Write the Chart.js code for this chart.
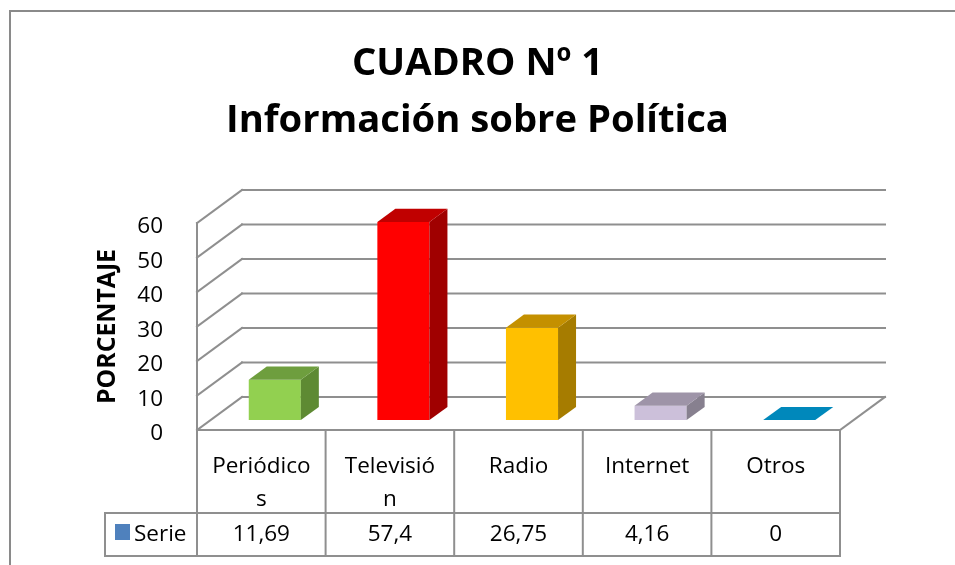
<!DOCTYPE html>
<html><head><meta charset="utf-8">
<script src="https://cdn.jsdelivr.net/npm/chart.js@4.4.0/dist/chart.umd.min.js"></script>
<style>html,body{margin:0;padding:0;background:#fff}</style>
</head><body>
<canvas id="c" width="955" height="565"></canvas>
<script>
// ---- data ----
const titleLines = ["CUADRO Nº 1", "Información sobre Política"];
const yAxisTitle = "PORCENTAJE";
const seriesName = "Serie";
const categories = ["Periódicos", "Televisión", "Radio", "Internet", "Otros"];
const categoryTickLabels = [["Periódico", "s"], ["Televisió", "n"], ["Radio"], ["Internet"], ["Otros"]];
const values = [11.69, 57.4, 26.75, 4.16, 0];
const valueLabels = values.map(v => String(v).replace('.', ','));
const yTicks = [0, 10, 20, 30, 40, 50, 60];
const frontColors = ["#92D050", "#FF0000", "#FFC000", "#CCC0DA", "#0088BB"];
const topColors   = ["#6E9E3E", "#C00000", "#C49000", "#9E94A8", "#0088BB"];
const sideColors  = ["#5E8A33", "#A00000", "#A67C00", "#87808F", "#006E99"];

// ---- styling helpers ----
const FONT = "Open Sans";
const TXT = 22.5;
function fitSize(text, weight, target) {
  const c = document.createElement('canvas').getContext('2d');
  c.font = weight + ' 100px "' + FONT + '"';
  return 100 * target / c.measureText(text).width;
}
const mainTitleSize = fitSize(titleLines[1], 'bold', 503);
const yTitleSize = fitSize(yAxisTitle, 'bold', 155);

const DX = 45, DY = 33;           // depth projection of the floor
const SHIFT = 0.3, DEPTH = 0.4;   // bar position/depth within floor
const LINE = '#8f8f8f';

function seg(ctx, x1, y1, x2, y2) { ctx.beginPath(); ctx.moveTo(x1, y1); ctx.lineTo(x2, y2); ctx.stroke(); }
function poly(ctx, pts, color) {
  ctx.beginPath(); ctx.moveTo(pts[0][0], pts[0][1]);
  for (let i = 1; i < pts.length; i++) ctx.lineTo(pts[i][0], pts[i][1]);
  ctx.closePath(); ctx.fillStyle = color; ctx.fill();
}

const threeD = {
  id: 'threeD',
  beforeDraw(chart) {
    const ctx = chart.ctx;
    ctx.save();
    ctx.fillStyle = '#fff'; ctx.fillRect(0, 0, chart.width, chart.height);
    ctx.strokeStyle = '#8a8a8a'; ctx.lineWidth = 2;
    ctx.beginPath(); ctx.moveTo(10, chart.height); ctx.lineTo(10, 11); ctx.lineTo(chart.width, 11); ctx.stroke();
    ctx.restore();
  },
  beforeDatasetsDraw(chart) {
    const ctx = chart.ctx, ca = chart.chartArea, ys = chart.scales.y;
    ctx.save();
    ctx.strokeStyle = LINE; ctx.lineWidth = 2; ctx.lineCap = 'square';
    yTicks.forEach(v => {
      const yp = ys.getPixelForValue(v);
      seg(ctx, ca.left, yp, ca.left + DX, yp - DY);
      seg(ctx, ca.left + DX, yp - DY, ca.right + DX, yp - DY);
    });
    const y0 = ys.getPixelForValue(0), yTop = ys.getPixelForValue(yTicks[yTicks.length - 1]);
    seg(ctx, ca.left, yTop, ca.left, y0);
    seg(ctx, ca.right, y0, ca.right + DX, y0 - DY);
    ctx.restore();
    ctx.save();
    ctx.translate(DX * SHIFT, -DY * SHIFT);
  },
  afterDatasetsDraw(chart) {
    const ctx = chart.ctx;
    const meta = chart.getDatasetMeta(0);
    const dx = DX * DEPTH, dy = DY * DEPTH;
    meta.data.forEach((el, i) => {
      const p = el.getProps(['x', 'y', 'base', 'width'], true);
      const l = p.x - p.width / 2, r = p.x + p.width / 2;
      const top = Math.min(p.y, p.base), bot = Math.max(p.y, p.base);
      if (bot - top > 0.5) {
        poly(ctx, [[r, top], [r + dx, top - dy], [r + dx, bot - dy], [r, bot]], sideColors[i]);
      }
      poly(ctx, [[l, top], [l + dx, top - dy], [r + dx, top - dy], [r, top]], topColors[i]);
    });
    ctx.restore();
  },
  afterDraw(chart) {
    const ctx = chart.ctx, ca = chart.chartArea;
    const n = categories.length, step = (ca.right - ca.left) / n;
    const yA = ca.bottom, yB = ca.bottom + 83, yC = yB + 43, xL = 105;
    ctx.save();
    ctx.strokeStyle = LINE; ctx.lineWidth = 2; ctx.lineCap = 'square';
    seg(ctx, ca.left, yA, ca.right, yA);
    seg(ctx, xL, yB, ca.right, yB);
    seg(ctx, xL, yC, ca.right, yC);
    seg(ctx, xL, yB, xL, yC);
    for (let i = 0; i <= n; i++) seg(ctx, ca.left + i * step, yA, ca.left + i * step, yC);
    ctx.fillStyle = '#000';
    ctx.font = TXT + 'px "' + FONT + '"';
    ctx.textAlign = 'center'; ctx.textBaseline = 'middle';
    const xs = chart.scales.x;
    valueLabels.forEach((t, i) => ctx.fillText(t, xs.getPixelForValue(i), (yB + yC) / 2));
    ctx.fillStyle = '#4F81BD';
    ctx.fillRect(115, yB + 11, 15, 16);
    ctx.fillStyle = '#000'; ctx.textAlign = 'left';
    ctx.fillText(seriesName, 134, (yB + yC) / 2);
    ctx.restore();
  }
};

new Chart(document.getElementById('c'), {
  type: 'bar',
  data: {
    labels: categories,
    datasets: [{
      label: seriesName,
      data: values,
      backgroundColor: frontColors,
      borderWidth: 0,
      categoryPercentage: 1,
      barPercentage: 0.405,
      clip: false
    }]
  },
  options: {
    responsive: false,
    animation: false,
    layout: { padding: 0 },
    plugins: {
      legend: { display: false },
      tooltip: { enabled: false },
      title: {
        display: true,
        text: titleLines,
        color: '#000',
        font: { family: FONT, weight: 'bold', size: mainTitleSize, lineHeight: '57px' },
        padding: { top: 35.5, bottom: 73.5 }
      }
    },
    scales: {
      x: {
        grid: { display: false },
        border: { display: false },
        ticks: {
          autoSkip: false, maxRotation: 0, minRotation: 0,
          padding: 12.5, color: '#000',
          font: { family: FONT, size: TXT, lineHeight: '33px' },
          callback: (v, i) => categoryTickLabels[i]
        },
        afterFit(s) { s.height = 135; }
      },
      y: {
        min: 0, max: 60,
        grid: { display: false },
        border: { display: false },
        afterBuildTicks(s) { s.ticks = yTicks.map(v => ({ value: v })); },
        ticks: { padding: 26, labelOffset: 4, color: '#000', font: { family: FONT, size: TXT } },
        title: {
          display: true, text: yAxisTitle, color: '#000',
          font: { family: FONT, weight: 'bold', size: yTitleSize, lineHeight: 1.2 },
          padding: { top: 108 - yTitleSize * 0.6, bottom: 0 }
        },
        afterFit(s) { s.width = 197; }
      },
      yR: {
        position: 'right',
        grid: { display: false },
        border: { display: false },
        ticks: { display: false },
        afterFit(s) { s.width = 115; }
      }
    }
  },
  plugins: [threeD]
});
</script>
</body></html>
